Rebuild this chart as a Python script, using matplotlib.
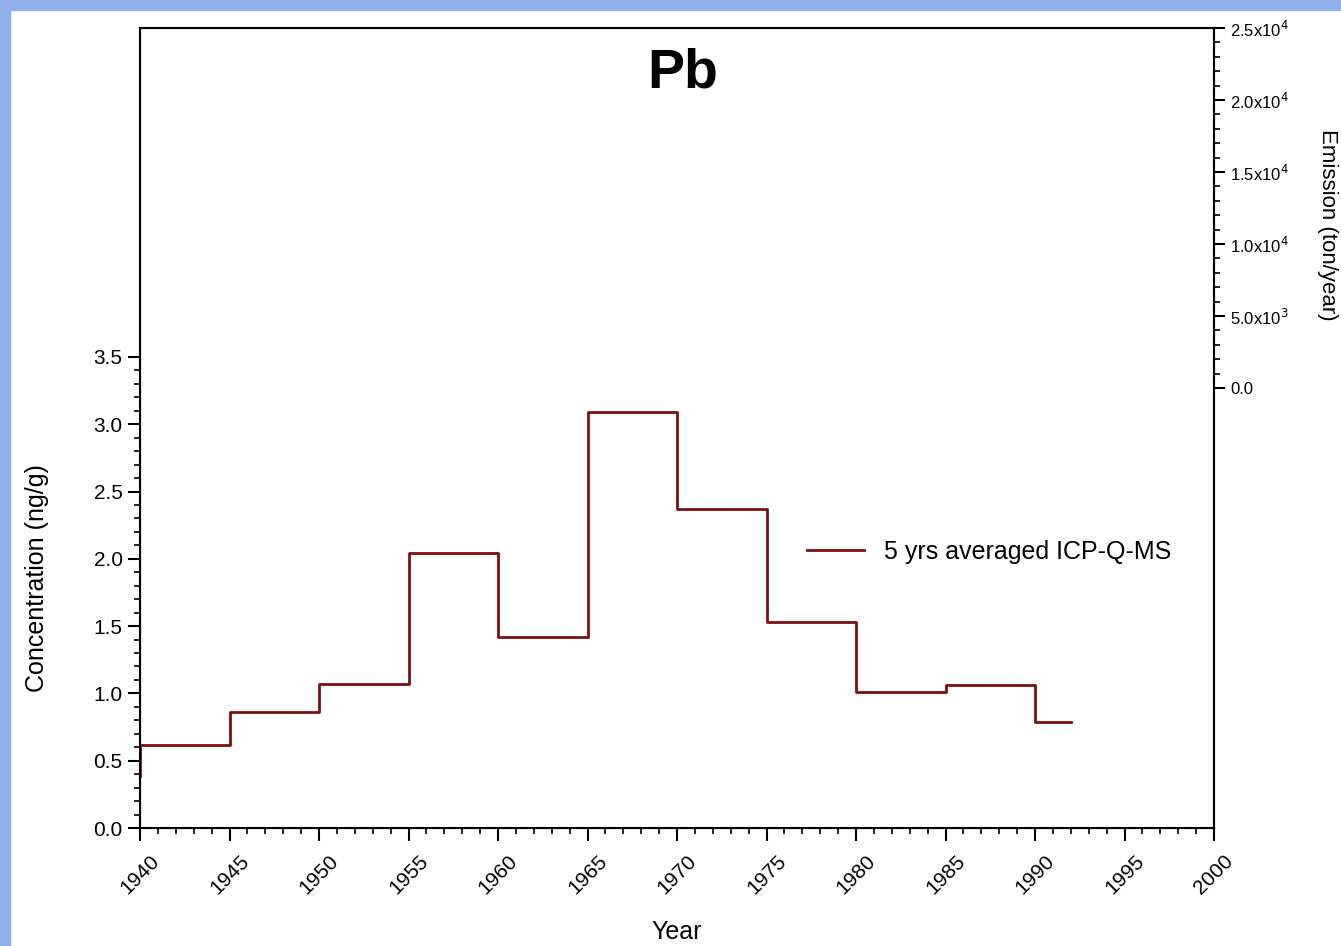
import matplotlib
matplotlib.use("Agg")
import matplotlib.pyplot as plt
from matplotlib.patches import Rectangle
from matplotlib.ticker import MultipleLocator, FixedLocator

years = [1940, 1940, 1945, 1950, 1955, 1960, 1965, 1970, 1975, 1980, 1985, 1990, 1992]
conc = [0.39, 0.62, 0.86, 1.07, 2.04, 1.42, 3.09, 2.37, 1.53, 1.01, 1.06, 0.79, 0.79]
year_ticks = list(range(1940, 2001, 5))
left_ticks = [0.0, 0.5, 1.0, 1.5, 2.0, 2.5, 3.0, 3.5]
right_ticks = [0, 5000, 10000, 15000, 20000, 25000]
right_labels = ["0.0", r"5.0x10$^3$", r"1.0x10$^4$", r"1.5x10$^4$", r"2.0x10$^4$", r"2.5x10$^4$"]

plt.rcParams["font.family"] = ["Liberation Sans", "DejaVu Sans"]
fig = plt.figure(figsize=(13.41, 9.46), dpi=100)
# blue frame strips of the slide
fig.patches.append(Rectangle((0, 0), 10 / 1341, 1, transform=fig.transFigure, color="#8fb0ea", zorder=0))
fig.patches.append(Rectangle((0, 1 - 10 / 946), 1, 10 / 946, transform=fig.transFigure, color="#8fb0ea", zorder=0))

ax = fig.add_axes([140 / 1341, 118 / 946, 1074 / 1341, 800 / 946])
ax.plot(years, conc, drawstyle="steps-post", color="#7a1010", lw=2, label="5 yrs averaged ICP-Q-MS")
ax.set_xlim(1940, 2000)
ax.set_ylim(0, 800 / 134.6)
ax.set_xticks(year_ticks)
ax.set_xticklabels([str(y) for y in year_ticks], rotation=45, fontsize=15)
ax.xaxis.set_minor_locator(MultipleLocator(1))
ax.yaxis.set_major_locator(FixedLocator(left_ticks))
ax.yaxis.set_minor_locator(FixedLocator([i * 0.1 for i in range(0, 36)]))
ax.set_yticklabels([f"{v:.1f}" for v in left_ticks], fontsize=15)
ax.tick_params(which="major", direction="out", length=9, width=1.5)
ax.tick_params(which="minor", direction="out", length=4, width=1.2)
ax.tick_params(axis="x", pad=8)
for s in ax.spines.values():
    s.set_linewidth(1.5)
ax.set_xlabel("Year", fontsize=18)
ax.xaxis.set_label_coords(0.5, -0.115)
ax.set_ylabel("Concentration (ng/g)", fontsize=18)
ax.yaxis.set_label_coords(-0.085, 0.3125)
ax.text(0.505, 0.975, "Pb", transform=ax.transAxes, ha="center", va="top", fontsize=40, fontweight="bold")
ax.legend(loc="center left", bbox_to_anchor=(0.6, 0.345), frameon=False, fontsize=18, handlelength=2.3)

ax2 = ax.twinx()
ax2.set_ylim(-440 / 360 * 25000, 25000)
ax2.set_yticks(right_ticks)
ax2.set_yticklabels(right_labels, fontsize=12)
ax2.yaxis.set_minor_locator(FixedLocator(list(range(0, 25001, 1000))))
ax2.tick_params(which="major", direction="out", length=8, width=1.5)
ax2.tick_params(which="minor", direction="out", length=4, width=1.2)
ax2.spines["right"].set_linewidth(1.5)
ax2.set_ylabel("Emission (ton/year)", fontsize=16, rotation=270)
ax2.yaxis.set_label_coords(1.115, 0.754)

fig.savefig("out.png")
